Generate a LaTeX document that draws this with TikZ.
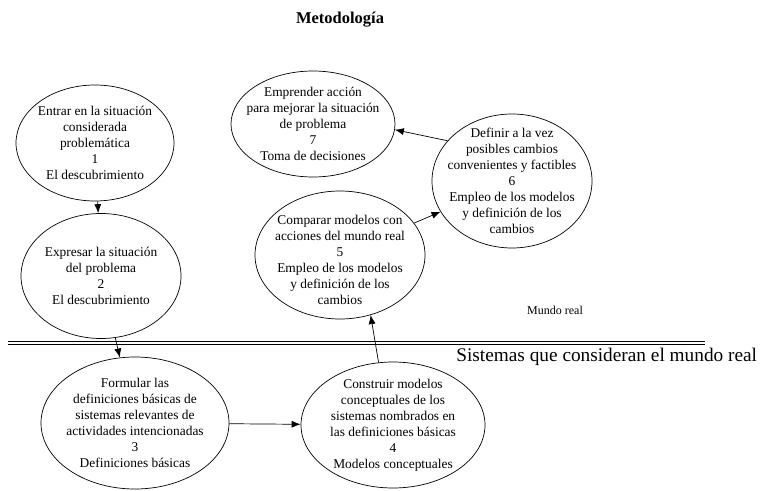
\documentclass[tikz,border=0pt]{standalone}
\usepackage{fontspec}
\setmainfont{Liberation Serif}
\usetikzlibrary{arrows.meta, positioning, shapes.geometric}

\begin{document}
\begin{tikzpicture}[
  x=1pt, y=-1pt,
  every node/.style={text centered},
  stage/.style={draw, ellipse, align=center, inner sep=-20pt, font=\fontsize{13.4}{16}\selectfont},
  >={Latex[length=9pt, width=7pt]},
  line width=0.7pt
]
\useasboundingbox (0,0) rectangle (760,490);

% Title
\node[font=\fontsize{16.5}{19}\selectfont\bfseries] (title) at (340,20) {Metodología};

% Nodes for the stages in the real world
\node[stage, minimum width=158, minimum height=116] (e1) at (95,143) {Entrar en la situación\\considerada\\problemática\\1\\El descubrimiento};
\node[stage, minimum width=160, minimum height=125] (e2) at (101,276) {Expresar la situación\\del problema\\2\\El descubrimiento};
\node[stage, minimum width=170, minimum height=128] (e5) at (340,255) {\rule{0pt}{20pt}Comparar modelos con\\acciones del mundo real\\5\\Empleo de los modelos\\y definición de los\\cambios};
\node[stage, minimum width=160, minimum height=134] (e6) at (512,181) {Definir a la vez\\posibles cambios\\convenientes y factibles\\6\\Empleo de los modelos\\y definición de los\\cambios};
\node[stage, minimum width=164, minimum height=106] (e7) at (313,124) {Emprender acción\\para mejorar la situación\\de problema\\7\\Toma de decisiones};

% Nodes for the systems thinking stages
\node[stage, minimum width=188, minimum height=132] (e3) at (135,423) {Formular las\\definiciones básicas de\\sistemas relevantes de\\actividades intencionadas\\3\\Definiciones básicas};
\node[stage, minimum width=184, minimum height=126] (e4) at (393,425) {Construir modelos\\conceptuales de los\\sistemas nombrados en\\las definiciones básicas\\4\\Modelos conceptuales};

% Border between both worlds
\draw[double, double distance=2pt] (8,343) -- (705,343);
\node[font=\fontsize{12}{14}\selectfont] (real) at (555,310) {Mundo real};
\node[anchor=west, font=\fontsize{19.3}{22}\selectfont, inner sep=0pt] (sist) at (456,357) {Sistemas que consideran el mundo real};

% Arrows between stages
\draw[->] (e1) -- (e2);
\draw[->] (e2) -- (e3);
\draw[->] (e3) -- (e4);
\draw[->] (e4.103) -- (e5.-63);
\draw[->] (e5) -- (e6);
\draw[->] (e6.148) -- (e7.-4);

\end{tikzpicture}
\end{document}
